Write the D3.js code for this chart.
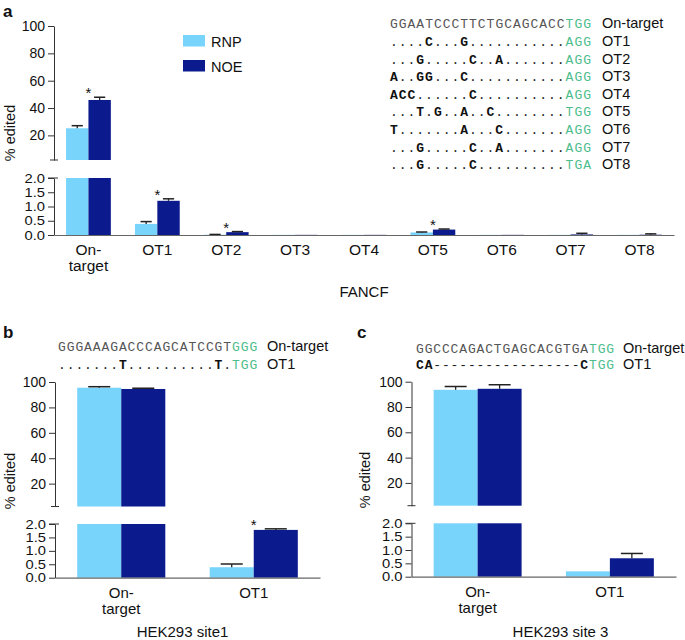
<!DOCTYPE html>
<html><head><meta charset="utf-8">
<script src="https://cdn.jsdelivr.net/npm/d3@7"></script>
<style>
body{margin:0;background:#fff;}
svg{display:block;font-family:"Liberation Sans",Arial,Helvetica,sans-serif;}
</style></head><body>
<svg id="chart" width="685" height="640"></svg>
<script>
// ---------- data ----------
const seriesNames = ["RNP", "NOE"];

// panel a : FANCF
const catsA   = ["On-target","OT1","OT2","OT3","OT4","OT5","OT6","OT7","OT8"];
const rnpA    = [25.2, 0.39, 0.01, 0.005, 0.005, 0.09, 0.005, 0.005, 0.005];
const rnpSemA = [1.9, 0.08, 0.01, 0, 0, 0.015, 0, 0, 0];
const noeA    = [45.9, 1.20, 0.10, 0.005, 0.005, 0.19, 0.005, 0.02, 0.01];
const noeSemA = [2.0, 0.07, 0.02, 0, 0, 0.02, 0, 0.04, 0.03];
const sigA    = [true, true, true, false, false, true, false, false, false];
const seqA = [
  "GGAATCCCTTCTGCAGCACCTGG",
  "....C...G...........AGG",
  "...G.....C..A.......AGG",
  "A..GG...C...........AGG",
  "ACC......C..........AGG",
  "...T.G..A..C........TGG",
  "T.......A...C.......AGG",
  "...G.....C..A.......AGG",
  "...G.....C..........TGA"
];
const seqLabelsA = ["On-target","OT1","OT2","OT3","OT4","OT5","OT6","OT7","OT8"];

// panel b : HEK293 site1
const catsB   = ["On-target","OT1"];
const rnpB    = [95.5, 0.39];
const rnpSemB = [0.8, 0.12];
const noeB    = [94.5, 1.78];
const noeSemB = [0.6, 0.04];
const sigB    = [false, true];
const seqB = ["GGGAAAGACCCAGCATCCGTGGG", ".......T..........T.TGG"];
const seqLabelsB = ["On-target","OT1"];

// panel c : HEK293 site 3
const catsC   = ["On-target","OT1"];
const rnpC    = [93.6, 0.20];
const rnpSemC = [2.6, 0.0];
const noeC    = [94.4, 0.69];
const noeSemC = [3.2, 0.18];
const sigC    = [false, false];
const seqC = ["GGCCCAGACTGAGCACGTGATGG", "CA-----------------CTGG"];
const seqLabelsC = ["On-target","OT1"];

const upperTicks = [20, 40, 60, 80, 100];
const lowerTicks = [0, 0.5, 1.0, 1.5, 2.0];

// ---------- drawing ----------
const svg = d3.select("#chart");
const color = d3.scaleOrdinal().domain(seriesNames).range(["#79d4fc", "#0b1a8c"]);
const GREEN = "#4dbd8c";

function drawSeqs(seqs, labels, x0, cw, baselines, labelX, fs) {
  const mono = '"Liberation Mono","DejaVu Sans Mono",monospace';
  const adv = 0.6 * 13;
  seqs.forEach((s, r) => {
    const t = svg.append("text").attr("y", baselines[r])
      .attr("font-family", mono).attr("font-size", 13)
      .attr("letter-spacing", cw - adv).attr("xml:space", "preserve");
    let i = 0;
    const styleOf = k => {
      if (k >= 20) return "pam";
      if (r === 0) return "ref";
      return (s[k] === "." || s[k] === "-") ? "dot" : "mm";
    };
    while (i < s.length) {
      const st = styleOf(i);
      let j = i;
      while (j < s.length && styleOf(j) === st) j++;
      const ts = t.append("tspan").attr("x", x0 + i * cw).text(s.slice(i, j));
      if (st === "pam") ts.attr("fill", GREEN);
      else if (st === "ref") ts.attr("fill", "#555");
      else if (st === "dot") ts.attr("fill", "#222");
      else ts.attr("fill", "#111").attr("font-weight", "bold");
      i = j;
    }
    svg.append("text").attr("x", labelX).attr("y", baselines[r])
      .attr("font-size", fs).attr("fill", "#111").text(labels[r]);
  });
}

function panel(cfg) {
  const g = svg.append("g");
  const x = d3.scaleBand().domain(cfg.cats).range(cfg.xRange)
    .paddingInner(cfg.pad).paddingOuter(cfg.pad / 2);
  const xs = d3.scaleBand().domain(seriesNames).range([0, x.bandwidth()]);
  const yU = d3.scaleLinear().domain([2, 100]).range(cfg.upper);
  const yL = d3.scaleLinear().domain([0, 2]).range(cfg.lower);
  const ax = cfg.xRange[0];

  const bars = [];
  cfg.cats.forEach((c, i) => {
    bars.push({cat: c, s: "RNP", v: cfg.rnp[i], sem: cfg.rnpSem[i]});
    bars.push({cat: c, s: "NOE", v: cfg.noe[i], sem: cfg.noeSem[i]});
  });

  g.selectAll("rect.lo").data(bars).join("rect").attr("class", "lo")
    .attr("x", d => x(d.cat) + xs(d.s)).attr("width", xs.bandwidth())
    .attr("y", d => yL(Math.min(d.v, 2)))
    .attr("height", d => yL(0) - yL(Math.min(d.v, 2)))
    .attr("fill", d => color(d.s));
  g.selectAll("rect.up").data(bars.filter(d => d.v > 2)).join("rect").attr("class", "up")
    .attr("x", d => x(d.cat) + xs(d.s)).attr("width", xs.bandwidth())
    .attr("y", d => yU(d.v)).attr("height", d => yU(2) - yU(d.v))
    .attr("fill", d => color(d.s));

  const eb = bars.filter(d => d.sem > 0);
  const sy = d => (d.v >= 2 ? yU : yL);
  const cx = d => x(d.cat) + xs(d.s) + xs.bandwidth() / 2;
  const capW = xs.bandwidth() / 2;
  g.selectAll("line.stem").data(eb).join("line").attr("class", "stem")
    .attr("x1", cx).attr("x2", cx)
    .attr("y1", d => sy(d)(d.v)).attr("y2", d => sy(d)(d.v + d.sem))
    .attr("stroke", "#222").attr("stroke-width", 1.3);
  g.selectAll("line.cap").data(eb).join("line").attr("class", "cap")
    .attr("x1", d => cx(d) - capW / 2).attr("x2", d => cx(d) + capW / 2)
    .attr("y1", d => sy(d)(d.v + d.sem)).attr("y2", d => sy(d)(d.v + d.sem))
    .attr("stroke", "#222").attr("stroke-width", 1.5);

  cfg.cats.forEach((c, i) => {
    if (!cfg.sig[i]) return;
    const tops = bars.filter(d => d.cat === c).map(d => sy(d)(d.v + d.sem));
    const top = Math.min(...tops);
    g.append("text").attr("x", x(c) + x.bandwidth() / 2).attr("y", top + 1)
      .attr("text-anchor", "middle").attr("font-size", 15).attr("fill", "#111").text("*");
  });

  const gu = g.append("g").attr("transform", `translate(${ax},0)`)
    .call(d3.axisLeft(yU).tickValues(upperTicks).tickSize(6).tickSizeOuter(0).tickPadding(3))
    .attr("font-family", null).attr("font-size", null).attr("color", "#333");
  gu.selectAll("text").attr("font-size", 14).attr("fill", "#111");
  gu.append("line").attr("x1", -4).attr("x2", 4).attr("y1", yU(2)).attr("y2", yU(2))
    .attr("stroke", "#333");

  const sc = 1.18;
  const gl = g.append("g").attr("transform", `translate(${ax},0)`)
    .call(d3.axisLeft(yL).tickValues(lowerTicks).tickFormat(d3.format(".1f"))
      .tickSize(6).tickSizeOuter(0).tickPadding(3))
    .attr("font-family", null).attr("font-size", null).attr("color", "#333");
  gl.selectAll("text").attr("font-size", 12.5).attr("fill", "#111")
    .attr("transform", `scale(${sc},1)`).attr("x", -9 / sc);
  gl.append("line").attr("x1", -6).attr("x2", 4).attr("y1", yL(2)).attr("y2", yL(2))
    .attr("stroke", "#333");

  const gx = g.append("g").attr("transform", `translate(0,${yL(0)})`)
    .call(d3.axisBottom(x).tickSize(0).tickSizeOuter(0))
    .attr("font-family", null).attr("font-size", null).attr("color", "#666");
  gx.select(".domain").attr("stroke-width", 1.2);
  gx.selectAll(".tick text").each(function (d) {
    const sel = d3.select(this);
    const parent = d3.select(this.parentNode);
    const parts = d === "On-target" ? ["On-", "target"] : [d];
    sel.attr("dy", null).attr("y", 20).attr("font-size", cfg.xfs).attr("fill", "#111").text(parts[0]);
    if (parts.length > 1) {
      parent.append("text").attr("y", 20 + cfg.lh).attr("fill", "#111")
        .attr("font-size", cfg.xfs).attr("text-anchor", "middle").text(parts[1]);
    }
  });

  svg.append("text").attr("x", cfg.titleX).attr("y", cfg.titleY)
    .attr("text-anchor", "middle").attr("font-size", 15).attr("fill", "#111").text(cfg.title);
  svg.append("text").attr("transform", `translate(${cfg.ytX},${cfg.ytY}) rotate(-90)`)
    .attr("text-anchor", "middle").attr("font-size", 14.5).attr("fill", "#111").text("% edited");
  svg.append("text").attr("x", cfg.letterX).attr("y", cfg.letterY)
    .attr("font-size", 17).attr("font-weight", "bold").attr("fill", "#111").text(cfg.letter);
}

panel({cats: catsA, rnp: rnpA, rnpSem: rnpSemA, noe: noeA, noeSem: noeSemA, sig: sigA,
  xRange: [54, 674], pad: 0.35, upper: [160, 26], lower: [235, 178], xfs: 15.5, lh: 16,
  title: "FANCF", titleX: 364, titleY: 297, ytX: 15, ytY: 133,
  letter: "a", letterX: 3, letterY: 17});
panel({cats: catsB, rnp: rnpB, rnpSem: rnpSemB, noe: noeB, noeSem: noeSemB, sig: sigB,
  xRange: [55, 320], pad: 0.335, upper: [506.5, 382], lower: [577.7, 524], xfs: 15, lh: 16,
  title: "HEK293 site1", titleX: 182.5, titleY: 637, ytX: 15, ytY: 481,
  letter: "b", letterX: 3, letterY: 338});
panel({cats: catsC, rnp: rnpC, rnpSem: rnpSemC, noe: noeC, noeSem: noeSemC, sig: sigC,
  xRange: [411.5, 676], pad: 0.335, upper: [505.7, 381.7], lower: [576.7, 523.3], xfs: 15, lh: 16,
  title: "HEK293 site 3", titleX: 560.5, titleY: 637, ytX: 370, ytY: 480,
  letter: "c", letterX: 357, letterY: 338});

seriesNames.forEach((s, i) => {
  const y0 = [35, 60][i];
  svg.append("rect").attr("x", 183).attr("y", y0).attr("width", 22).attr("height", 11.5)
    .attr("fill", color(s));
  svg.append("text").attr("x", 211).attr("y", y0 + 11.5).attr("font-size", 14.5)
    .attr("fill", "#111").text(s);
});

drawSeqs(seqA, seqLabelsA, 390, 8.78, seqA.map((_, i) => 28.3 + i * 17.6), 602, 14.5);
drawSeqs(seqB, seqLabelsB, 58, 8.7, [350.5, 368.5], 267, 14.5);
drawSeqs(seqC, seqLabelsC, 416, 8.65, [352.5, 368.5], 623, 14.5);
</script>
</body></html>
